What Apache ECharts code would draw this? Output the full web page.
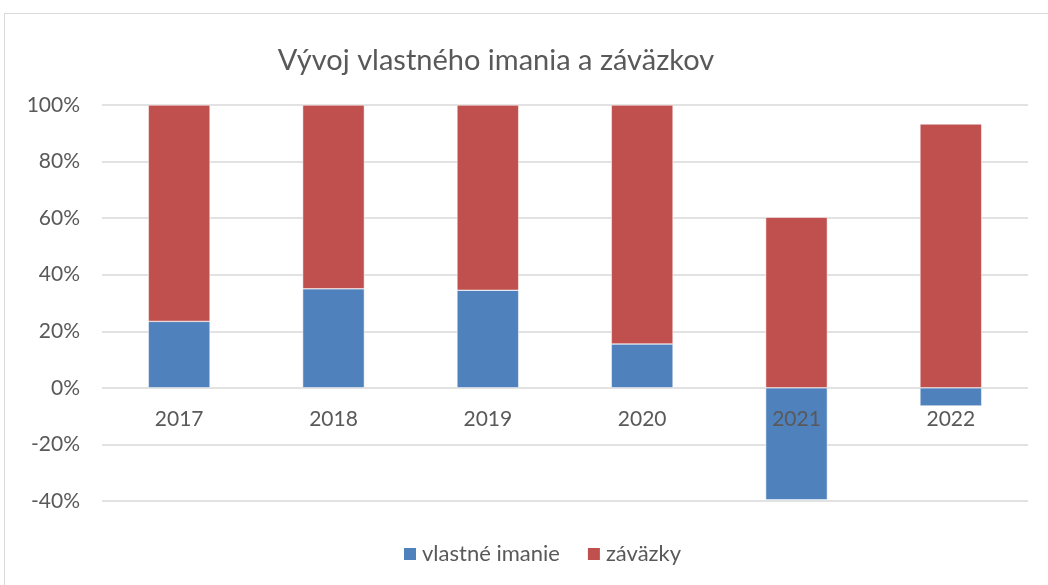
<!DOCTYPE html>
<html><head><meta charset="utf-8">
<script src="https://cdn.jsdelivr.net/npm/echarts@6/dist/echarts.min.js"></script>
<style>html,body{margin:0;padding:0;background:#fff}#c{width:1048px;height:585px}
#frame{position:absolute;left:4px;top:13px;width:1060px;height:600px;border:1px solid #d9d9d9;box-sizing:border-box;pointer-events:none}</style>
</head><body><div id="c"></div><div id="frame"></div>
<script>
const categories = ['2017','2018','2019','2020','2021','2022'];
const vlastneImanie = [23.5, 35.0, 34.5, 15.5, -39.6, -6.4];
const zavazky = [76.5, 65.0, 65.5, 84.5, 60.3, 93.3];
const seriesNames = ['vlastné imanie','záväzky'];
const yMin = -40, yMax = 100;
const gridTop = 105, gridBottom = 84, H = 585;
const gridH = H - gridTop - gridBottom;
const zeroOffset = -gridH * (0 - yMin) / (yMax - yMin);
const font = 'Lato, "Open Sans", sans-serif';
const chart = echarts.init(document.getElementById('c'));
chart.setOption({
  animation:false,
  title:{text:'Vývoj vlastného imania a záväzkov',left:491,top:41,textAlign:'center',
    textStyle:{fontFamily:font,fontSize:29,fontWeight:'normal',color:'#595959'}},
  legend:{bottom:15,left:397,itemWidth:14,itemHeight:14,itemGap:26,icon:'rect',
    textStyle:{fontFamily:font,fontSize:22,color:'#595959'},data:seriesNames},
  grid:{left:102,right:20,top:gridTop,bottom:gridBottom,containLabel:false},
  xAxis:{type:'category',data:categories,position:'bottom',offset:zeroOffset,z:10,
    axisLine:{show:false},axisTick:{show:false},
    axisLabel:{fontFamily:font,fontSize:21,color:'#595959',margin:21}},
  yAxis:{type:'value',min:yMin,max:yMax,interval:20,
    axisLabel:{formatter:'{value}%',fontFamily:font,fontSize:21,color:'#595959',margin:22},
    splitLine:{lineStyle:{color:'#d9d9d9',width:1.5}},axisLine:{show:false},axisTick:{show:false}},
  series:[
    {name:seriesNames[0],type:'bar',stack:'s',data:vlastneImanie,barWidth:'40%',
      itemStyle:{color:'#4F81BD',borderColor:'#fff',borderWidth:0.5}},
    {name:seriesNames[1],type:'bar',stack:'s',data:zavazky,barWidth:'40%',
      itemStyle:{color:'#C0504D',borderColor:'#fff',borderWidth:0.5}}
  ]
});
</script></body></html>
